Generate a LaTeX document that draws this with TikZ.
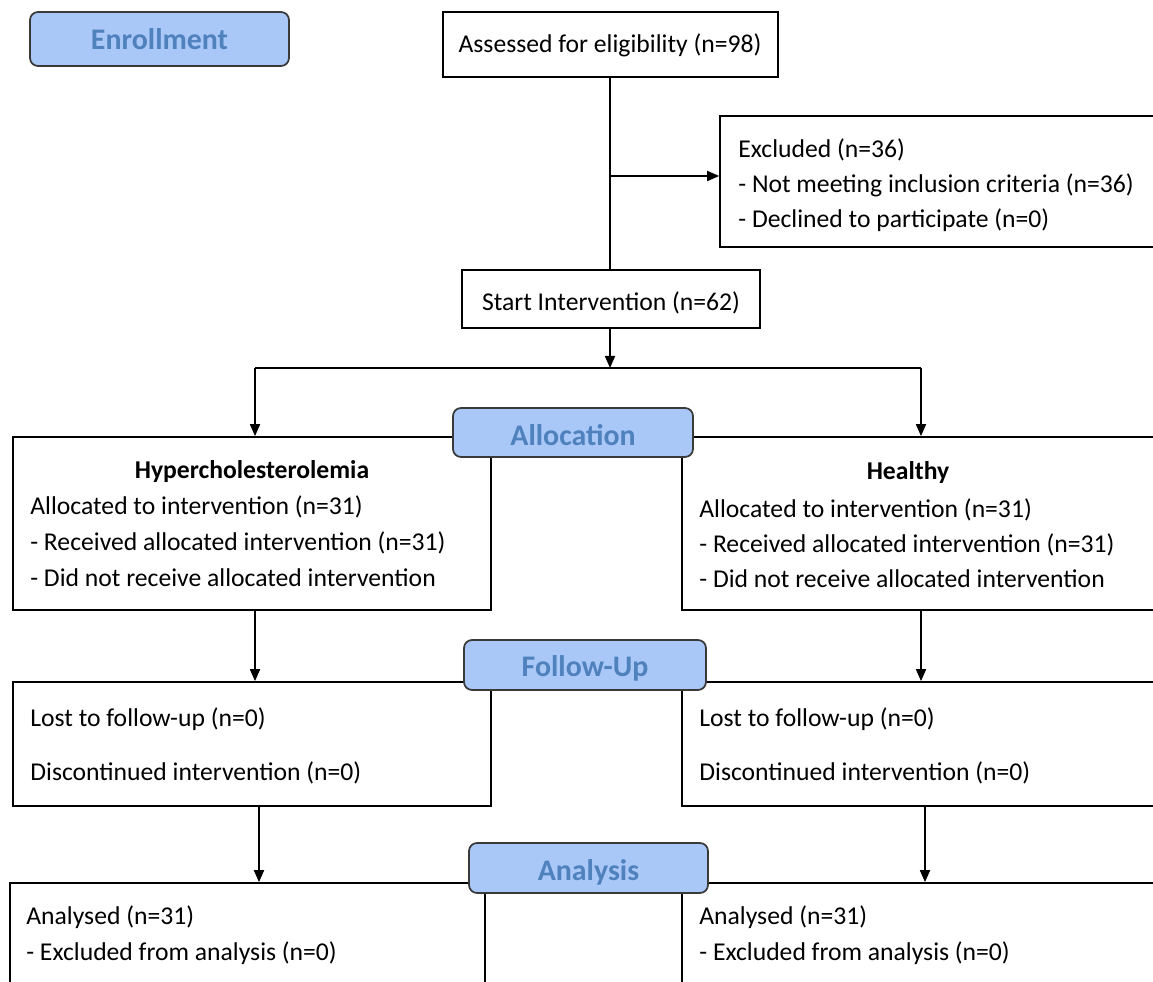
\documentclass[tikz,border=0pt]{standalone}
\usepackage{fontspec}
\setmainfont{Carlito}
\usetikzlibrary{arrows.meta}

\definecolor{stagefill}{HTML}{A9C8F8}
\definecolor{stagetext}{HTML}{4F81BD}
\definecolor{stageline}{HTML}{3A3A3A}

\tikzset{
  box/.style={draw, line width=1pt, fill=white, inner sep=0pt},
  stage/.style={draw=stageline, line width=1pt, fill=stagefill, rounded corners=0.16cm, inner sep=0pt},
  stagetxt/.style={anchor=base, inner sep=0pt, text=stagetext, font=\fontsize{17}{19}\selectfont\bfseries},
  txt/.style={anchor=base, inner sep=0pt, font=\fontsize{14.6}{20.2}\selectfont},
  lines/.style={anchor=base west, align=left, inner sep=0pt, font=\fontsize{14.6}{20.2}\selectfont},
  flow/.style={line width=1pt, -{Triangle[length=0.24cm,width=0.2cm]}},
}

\begin{document}
\begin{tikzpicture}[x=0.02cm, y=-0.02cm]
\clip (0,0) rectangle (1153,982);
\fill[white] (0,0) rectangle (1153,982);

% Enrollment
\node[stage, minimum width=5.18cm, minimum height=1.08cm] (enroll) at (159.5,39) {};
\node[stagetxt] (enrollT) at (159.5,50) {Enrollment};

\node[box, minimum width=6.70cm, minimum height=1.30cm] (assess) at (610.5,44.5) {};
\node[txt] (assessT) at (610,53) {Assessed for eligibility (n=98)};

\node[box, minimum width=9.60cm, minimum height=2.62cm] (excl) at (960,181.5) {};
% base anchor sits on the last line
\node[lines] (exclT) at (738,228) {Excluded (n=36)\\- Not meeting inclusion criteria (n=36)\\- Declined to participate (n=0)};

\node[box, minimum width=5.96cm, minimum height=1.16cm] (start) at (611,299) {};
\node[txt] (startT) at (611,311) {Start Intervention (n=62)};

% Allocation
\node[box, minimum width=9.56cm, minimum height=3.46cm] (hyper) at (252,523.5) {};
\node[box, minimum width=10.36cm, minimum height=3.46cm] (healthy) at (941,523.5) {};
\node[stage, minimum width=4.80cm, minimum height=0.98cm] (alloc) at (573,432.5) {};
\node[stagetxt] (allocT) at (573,446) {Allocation};

\node[txt, font=\fontsize{14.6}{20.2}\selectfont\bfseries] (hyperH) at (252,479) {Hypercholesterolemia};
\node[lines, font=\fontsize{14.6}{20.6}\selectfont] (hyperT) at (30,587) {Allocated to intervention (n=31)\\- Received allocated intervention (n=31)\\- Did not receive allocated intervention};
\node[txt, font=\fontsize{14.6}{20.2}\selectfont\bfseries] (healthyH) at (908,480) {Healthy};
\node[lines] (healthyT) at (699,588) {Allocated to intervention (n=31)\\- Received allocated intervention (n=31)\\- Did not receive allocated intervention};

% Follow-Up
\node[box, minimum width=9.56cm, minimum height=2.48cm] (lostL) at (252,744) {};
\node[box, minimum width=10.36cm, minimum height=2.48cm] (lostR) at (941,744) {};
\node[stage, minimum width=4.84cm, minimum height=1.00cm] (follow) at (585,665) {};
\node[stagetxt] (followT) at (585,677) {Follow-Up};

\node[lines] (lostLT) at (30,781) {Lost to follow-up (n=0)\\[0.38cm]Discontinued intervention (n=0)};
\node[lines] (lostRT) at (699,781) {Lost to follow-up (n=0)\\[0.38cm]Discontinued intervention (n=0)};

% Analysis
\node[box, minimum width=9.50cm, minimum height=3.34cm] (anaL) at (247.5,966.5) {};
\node[box, minimum width=10.36cm, minimum height=3.34cm] (anaR) at (941,966.5) {};
\node[stage, minimum width=4.78cm, minimum height=1.00cm] (analysis) at (588.5,868) {};
\node[stagetxt] (analysisT) at (588.5,880) {Analysis};

\node[lines] (anaLT) at (26,960) {Analysed (n=31)\\- Excluded from analysis (n=0)};
\node[lines] (anaRT) at (699,960) {Analysed (n=31)\\- Excluded from analysis (n=0)};

% connectors
\coordinate (split) at (610,176);
\coordinate (fork) at (610,368);
\coordinate (forkL) at (255,368);
\coordinate (forkR) at (921,368);
\coordinate (downL) at (259,806);
\coordinate (downR) at (925,806);

\draw[line width=1pt] (assess.south -| split) -- (start.north -| split);
\draw[flow] (split) -- (split -| excl.west);
\draw[flow] (start.south -| fork) -- (fork);
\draw[line width=1pt] (forkL) -- (forkR);
\draw[flow] (forkL) -- (forkL |- hyper.north);
\draw[flow] (forkR) -- (forkR |- healthy.north);
\draw[flow] (forkL |- hyper.south) -- (forkL |- lostL.north);
\draw[flow] (forkR |- healthy.south) -- (forkR |- lostR.north);
\draw[flow] (downL |- lostL.south) -- (downL |- anaL.north);
\draw[flow] (downR |- lostR.south) -- (downR |- anaR.north);
\end{tikzpicture}
\end{document}
